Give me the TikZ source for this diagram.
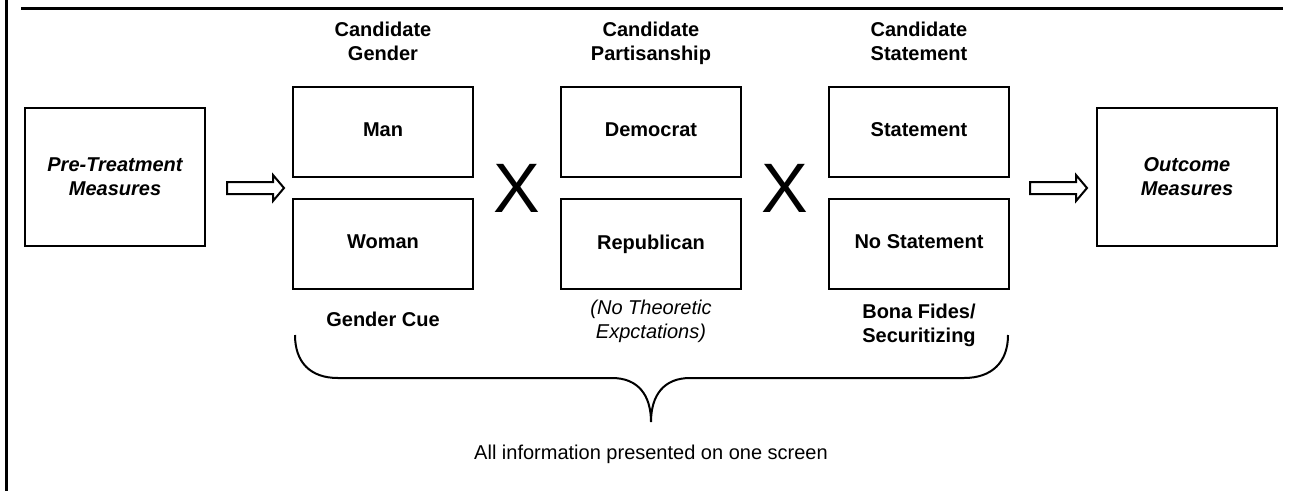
\documentclass[tikz,border=0pt]{standalone}
\usepackage{fontspec}
\setmainfont{Liberation Sans}

\begin{document}
\begin{tikzpicture}[x=1pt,y=-1pt,font=\fontsize{20}{24}\selectfont,
		block/.style={shape=rectangle,draw,line width=2.5pt,minimum width=180pt,minimum height=138pt,
			align=center,font=\fontsize{20}{24}\selectfont\bfseries\itshape},
		choice/.style={shape=rectangle,draw,line width=2.5pt,minimum width=180pt,minimum height=90pt,
			text depth=4.5pt,font=\fontsize{20}{24}\selectfont\bfseries},
		head/.style={align=center,text depth=4.5pt,font=\fontsize{20}{24}\selectfont\bfseries},
		note/.style={align=center,text depth=4.5pt,font=\fontsize{20}{24}\selectfont\itshape},
		cross/.style={inner sep=0pt,font=\fontsize{70}{70}\selectfont},
		hollow/.style={line width=2pt,line join=miter},
		frame/.style={line width=3pt}]
		\useasboundingbox (0,0) rectangle (1295,491);
		\draw[frame] (6,0) -- (6,491);
		\draw[frame] (21,8) -- (1283,8);

		\node[block] (pre) at (115,177) {Pre-Treatment\\Measures};
		\node[block] (out) at (1187,177) {Outcome\\Measures};

		\node[head] at (383,43) {Candidate\\Gender};
		\node[choice] (man)   at (383,132) {Man};
		\node[choice] (woman) at (383,244) {Woman};
		\node[cross] (x1) at (517,188) {X};

		\node[head] at (651,43) {Candidate\\Partisanship};
		\node[choice] (dem) at (651,132) {Democrat};
		\node[choice] (rep) at (651,244) {Republican};
		\node[cross] (x2) at (785,188) {X};

		\node[head] at (919,43) {Candidate\\Statement};
		\node[choice] (stmt)   at (919,132) {Statement};
		\node[choice] (nostmt) at (919,244) {No Statement};

		\foreach \s in {227,1030}
			\draw[hollow] (\s,182) -- ++(46,0) -- ++(0,-7) -- ++(11,13) -- ++(-11,13) -- ++(0,-7) -- ++(-46,0) -- cycle;

		\node[head] (cue)  at (383,321) {Gender Cue};
		\node[note] (none) at (651,321) {(No Theoretic\\Expctations)};
		\node[head] (bona) at (919,325) {Bona Fides/\\Securitizing};

		% brace under the three factors
		\coordinate (bl) at (295,335);
		\coordinate (br) at (1008,335);
		\coordinate (tip) at (651,422);
		\draw[line width=2pt] (bl) .. controls (295,362) and (310,378) .. (338,378) -- (612,378)
			.. controls (638,378) and (651,395) .. (tip)
			.. controls (651,395) and (664,378) .. (690,378) -- (964,378)
			.. controls (992,378) and (1008,362) .. (br);
		\node (all) at (651,454) {All information presented on one screen};
	\end{tikzpicture}
\end{document}
